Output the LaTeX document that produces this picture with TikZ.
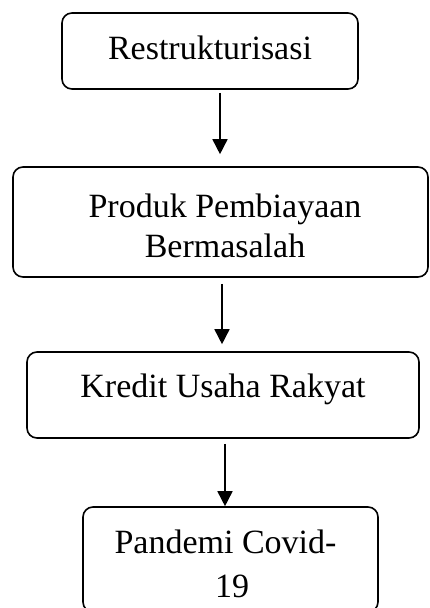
\documentclass[tikz,border=0pt]{standalone}
\usepackage{fontspec}
\setmainfont{Liberation Serif}
\usetikzlibrary{arrows.meta}
\begin{document}
\begin{tikzpicture}[x=1pt,y=-1pt,
  box/.style={draw=black,line width=1.6pt,rounded corners=10pt,rectangle,inner sep=0pt},
  lbl/.style={inner sep=0pt,anchor=base,font=\fontsize{34}{40}\selectfont},
  arr/.style={line width=1.6pt,-{Triangle[width=15pt,length=15pt]}}]
\useasboundingbox (0,0) rectangle (429,608);
\node[box,minimum width=296pt,minimum height=76pt] (b1) at (210,51) {};
\node[box,minimum width=415pt,minimum height=110pt] (b2) at (220.5,222) {};
\node[box,minimum width=392pt,minimum height=86pt] (b3) at (223,395) {};
\node[box,minimum width=295pt,minimum height=105pt] (b4) at (230.5,559.5) {};
\node[lbl] (t1) at (210,59) {Restrukturisasi};
\node[lbl] (t2a) at (225,217) {Produk Pembiayaan};
\node[lbl] (t2b) at (225,257) {Bermasalah};
\node[lbl] (t3) at (223,397) {Kredit Usaha Rakyat};
\node[lbl] (t4a) at (225.5,553) {Pandemi Covid-};
\node[lbl] (t4b) at (232,597) {19};
\draw[arr] ([xshift=10pt,yshift=-3pt]b1.south) -- ([xshift=-0.5pt,yshift=12pt]b2.north);
\draw[arr] ([xshift=1.5pt,yshift=-6pt]b2.south) -- ([xshift=-1pt,yshift=7pt]b3.north);
\draw[arr] ([xshift=2pt,yshift=-5pt]b3.south) -- ([xshift=-5.5pt]b4.north);
\end{tikzpicture}
\end{document}
